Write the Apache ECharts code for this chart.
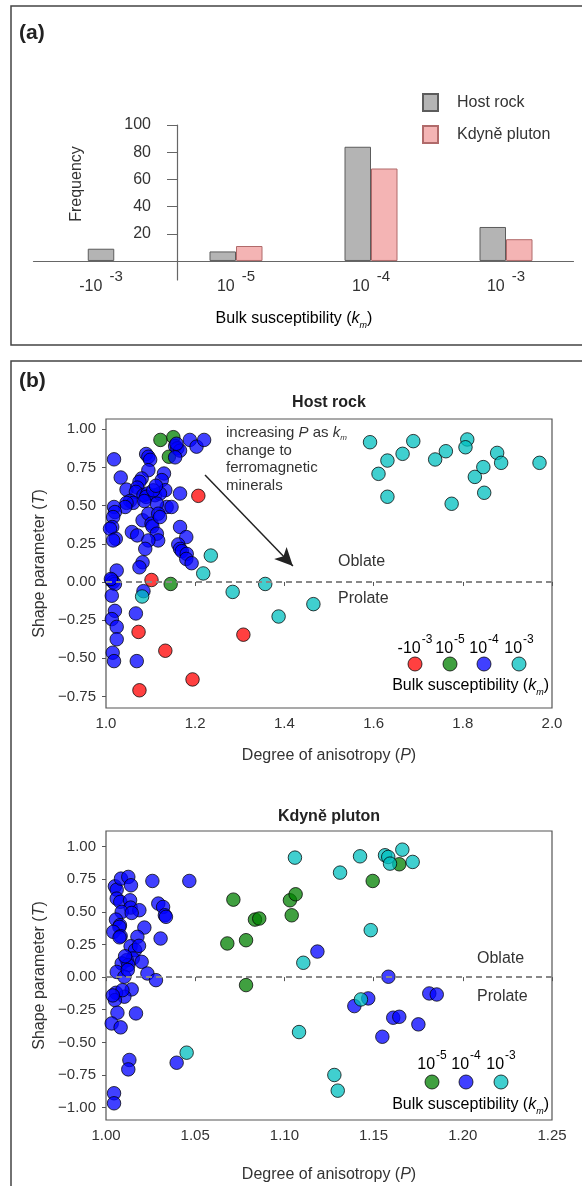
<!DOCTYPE html>
<html>
<head>
<meta charset="utf-8" />
<title>Bulk susceptibility and AMS shape</title>
<script src="https://cdn.jsdelivr.net/npm/echarts@6/dist/echarts.min.js"></script>
<style>
    html, body { margin: 0; padding: 0; background: #fff; }
    #chart { width: 582px; height: 1186px; }
</style>
</head>
<body>
<div id="chart"></div>
<script type="text/javascript">
    // (a) histogram of bulk susceptibility
    var binBase = ['-10', '10', '10', '10'];
    var binExp = ['-3', '-5', '-4', '-3'];
    var hostFreq = [9, 7, 84, 25];
    var plutonFreq = [null, 11, 68, 16];
    var freqTicks = [20, 40, 60, 80, 100];

    // (b) host rock, [P, T]
    var hostRed = [[1.207, 0.564], [1.102, 0.013], [1.073, -0.327], [1.133, -0.45], [1.194, -0.638],
        [1.075, -0.709], [1.308, -0.345]];
    var hostGreen = [[1.122, 0.93], [1.151, 0.948], [1.141, 0.82], [1.145, -0.013]];
    var hostBlue = [[1.018, 0.803], [1.033, 0.684], [1.046, 0.605], [1.090, 0.838], [1.095, 0.82],
        [1.099, 0.80], [1.095, 0.732], [1.080, 0.678], [1.075, 0.656], [1.070, 0.618], [1.067, 0.59],
        [1.084, 0.568], [1.093, 0.579], [1.090, 0.557], [1.110, 0.568], [1.130, 0.71], [1.125, 0.667],
        [1.133, 0.601], [1.121, 0.579], [1.136, 0.491], [1.147, 0.491], [1.166, 0.579], [1.054, 0.531],
        [1.061, 0.518], [1.046, 0.518], [1.043, 0.491], [1.018, 0.491], [1.020, 0.458], [1.016, 0.425],
        [1.014, 0.36], [1.009, 0.349], [1.022, 0.283], [1.016, 0.272], [1.058, 0.327], [1.070, 0.305],
        [1.082, 0.404], [1.095, 0.447], [1.102, 0.382], [1.104, 0.364], [1.114, 0.513], [1.117, 0.447],
        [1.121, 0.425], [1.114, 0.316], [1.117, 0.272], [1.095, 0.272], [1.088, 0.217], [1.082, 0.129],
        [1.075, 0.096], [1.166, 0.36], [1.180, 0.294], [1.162, 0.246], [1.166, 0.217], [1.170, 0.202],
        [1.181, 0.184], [1.180, 0.151], [1.192, 0.123], [1.024, 0.075], [1.013, 0.013], [1.016, 0.0],
        [1.020, -0.013], [1.013, -0.09], [1.020, -0.189], [1.013, -0.243], [1.024, -0.294], [1.024, -0.375],
        [1.015, -0.463], [1.018, -0.518], [1.067, -0.206], [1.069, -0.518], [1.084, -0.06],
        [1.155, 0.89], [1.160, 0.875], [1.166, 0.86], [1.158, 0.905], [1.188, 0.93], [1.203, 0.886],
        [1.220, 0.93], [1.155, 0.816], [1.011, 0.02], [1.106, 0.60], [1.112, 0.63], [1.086, 0.53]];
    var hostCyan = [[1.592, 0.915], [1.631, 0.795], [1.611, 0.708], [1.631, 0.558], [1.665, 0.839],
        [1.689, 0.922], [1.738, 0.802], [1.762, 0.856], [1.775, 0.512], [1.810, 0.933], [1.806, 0.882],
        [1.827, 0.688], [1.846, 0.752], [1.848, 0.584], [1.877, 0.845], [1.886, 0.78], [1.972, 0.78],
        [1.235, 0.173], [1.218, 0.056], [1.284, -0.065], [1.357, -0.013], [1.387, -0.226], [1.465, -0.145],
        [1.081, -0.095]];

    // (b) Kdyně pluton, [P, T]
    var plutonGreen = [[1.0714, 0.594], [1.068, 0.258], [1.0785, 0.283], [1.0835, 0.441], [1.0859, 0.449],
        [1.0785, -0.061], [1.1031, 0.589], [1.1063, 0.635], [1.1041, 0.474], [1.1495, 0.737], [1.1644, 0.865]];
    var plutonBlue = [[1.005, 0.696], [1.006, 0.67], [1.0084, 0.755], [1.0125, 0.768], [1.014, 0.704],
        [1.006, 0.602], [1.008, 0.577], [1.0135, 0.589], [1.0138, 0.533], [1.0187, 0.513], [1.0088, 0.5],
        [1.0144, 0.492], [1.0056, 0.441], [1.0078, 0.398], [1.0075, 0.385], [1.0041, 0.347], [1.0082, 0.314],
        [1.0076, 0.305], [1.0215, 0.38], [1.0176, 0.309], [1.0138, 0.237], [1.0163, 0.207], [1.015, 0.143],
        [1.0116, 0.13], [1.0088, 0.105], [1.0125, 0.092], [1.02, 0.117], [1.006, 0.04], [1.0103, 0.003],
        [1.0232, 0.028], [1.028, -0.023], [1.0144, -0.094], [1.0103, -0.15], [1.0056, -0.12], [1.005, -0.176],
        [1.0064, -0.273], [1.0032, -0.355], [1.0082, -0.385], [1.0168, -0.278], [1.0131, -0.635],
        [1.0125, -0.707], [1.0045, -0.89], [1.0045, -0.967], [1.026, 0.737], [1.0467, 0.737], [1.0293, 0.564],
        [1.032, 0.538], [1.033, 0.474], [1.0336, 0.462], [1.0306, 0.296], [1.0396, -0.656],
        [1.0107, 0.16], [1.0122, 0.055], [1.0185, 0.24], [1.0092, -0.1], [1.0038, -0.14],
        [1.1185, 0.196], [1.1583, 0.003], [1.1392, -0.222], [1.147, -0.163], [1.161, -0.311], [1.1644, -0.304],
        [1.1549, -0.457], [1.1751, -0.362], [1.1812, -0.125], [1.1854, -0.133]];
    var plutonCyan = [[1.1059, 0.916], [1.1312, 0.801], [1.1424, 0.926], [1.1564, 0.934], [1.1582, 0.921],
        [1.1592, 0.87], [1.1661, 0.977], [1.1719, 0.883], [1.1484, 0.36], [1.1106, 0.11], [1.1429, -0.171],
        [1.1082, -0.421], [1.128, -0.75], [1.1299, -0.87], [1.0452, -0.579]];

    var tTicksHost = [-0.75, -0.5, -0.25, 0, 0.25, 0.5, 0.75, 1];
    var tTicksPluton = [-1, -0.75, -0.5, -0.25, 0, 0.25, 0.5, 0.75, 1];
    // arrow "increasing P", start and end in [P, T]
    var arrowFrom = [1.222, 0.70];
    var arrowTo = [1.419, 0.105];

    var FONT = '"Liberation Sans", Arial, Helvetica, sans-serif';
    var TXT = '#333';
    var C_RED = 'red', C_GREEN = 'green', C_BLUE = 'blue', C_CYAN = '#00bfbf';

    // rich style helper
    function rs(extra) {
        return Object.assign({fontFamily: FONT, fontSize: 16, color: TXT}, extra || {});
    }
    function supText(b, e) {
        return '{b|' + b + '}{s|' + e + '}';
    }
    var kmName = '{n|Bulk susceptibility (}{i|k}{m|m}{n|)}';
    var kmRich = {
        n: rs({verticalAlign: 'bottom', padding: [0, 0, 3, 0]}),
        i: rs({fontStyle: 'italic', verticalAlign: 'bottom', padding: [0, 0, 3, 0]}),
        m: rs({fontSize: 9, fontStyle: 'italic', verticalAlign: 'bottom'})
    };
    function tFmt(v) {
        return (v < 0 ? '\u2212' : '') + Math.abs(v).toFixed(2);
    }

    function scatterSeries(name, data, color, xi, yi) {
        return {
            name: name,
            type: 'scatter',
            xAxisIndex: xi,
            yAxisIndex: yi,
            data: data,
            symbolSize: 13.5,
            itemStyle: {color: color, opacity: 0.75, borderColor: '#000', borderWidth: 1},
            emphasis: {disabled: true}
        };
    }

    var zeroLine = {
        silent: true,
        symbol: ['none', 'none'],
        label: {show: false},
        lineStyle: {color: '#888', width: 2, type: [6, 4]},
        data: [{yAxis: 0}]
    };

    function scatterXAxis(grid, min, max, step, digits, gap) {
        return {
            type: 'value', gridIndex: grid, min: min, max: max, interval: step,
            axisLine: {show: false},
            axisTick: {show: true, length: 4, lineStyle: {color: '#555'}},
            splitLine: {show: false},
            axisLabel: {fontSize: 15, color: TXT, margin: 8, formatter: function (v) { return v.toFixed(digits); }},
            name: '{n|Degree of anisotropy (}{i|P}{n|)}',
            nameLocation: 'middle',
            nameGap: gap,
            nameTextStyle: {rich: {n: rs(), i: rs({fontStyle: 'italic'})}}
        };
    }
    function scatterYAxis(grid, min, max, ticks) {
        return {
            type: 'value', gridIndex: grid, min: min, max: max,
            axisLine: {show: false, onZero: false},
            axisTick: {show: true, length: 4, lineStyle: {color: '#555'}, customValues: ticks},
            splitLine: {show: false},
            axisLabel: {fontSize: 15, color: TXT, margin: 10, customValues: ticks, formatter: tFmt},
            name: '{n|Shape parameter (}{i|T}{n|)}',
            nameLocation: 'middle',
            nameGap: 56,
            nameTextStyle: {rich: {n: rs(), i: rs({fontStyle: 'italic'})}}
        };
    }

    // custom legends of the scatter plots
    function kLegend(items, cy, labelDy, titleY) {
        var els = [];
        items.forEach(function (it) {
            els.push({
                type: 'circle',
                shape: {cx: it[0], cy: cy, r: 7},
                style: {fill: it[1], stroke: '#000', lineWidth: 1, opacity: 0.75}
            });
            els.push({
                type: 'text',
                style: {
                    x: it[0], y: cy - labelDy + 8, text: supText(it[2], it[3]),
                    align: 'center', verticalAlign: 'bottom',
                    rich: {
                        b: rs({verticalAlign: 'bottom'}),
                        s: rs({fontSize: 12, verticalAlign: 'top', padding: [0, 0, 11, 1]})
                    }
                }
            });
        });
        els.push({
            type: 'text',
            style: {x: 549, y: titleY, text: kmName, rich: kmRich, align: 'right', verticalAlign: 'middle'}
        });
        return els;
    }

    var myChart = echarts.init(document.getElementById('chart'));
    var option = {
        animation: false,
        textStyle: {fontFamily: FONT, color: TXT},
        legend: {
            data: ['Host rock', 'Kdyně pluton'],
            orient: 'vertical',
            left: 417,
            top: 88,
            itemWidth: 15,
            itemHeight: 17,
            itemGap: 13,
            icon: 'rect',
            selectedMode: false,
            formatter: function (n) { return '{t|' + n + '}'; },
            textStyle: {fontSize: 16, color: TXT, rich: {t: rs({padding: [0, 0, 0, 14]})}}
        },
        grid: [
            {left: 33.5, right: 8.5, top: 125, height: 155},
            {left: 106, right: 30, top: 419, height: 289, show: true, borderColor: '#555', borderWidth: 1.2},
            {left: 106, right: 30, top: 831, height: 289, show: true, borderColor: '#555', borderWidth: 1.2}
        ],
        xAxis: [
            {
                type: 'category', gridIndex: 0,
                data: binBase.map(function (b, i) { return b + '^' + binExp[i]; }),
                axisLine: {onZero: true, lineStyle: {color: '#666', width: 1.2}},
                axisTick: {show: false},
                axisLabel: {
                    interval: 0, margin: -11,
                    formatter: function (v, i) { return supText(binBase[i], binExp[i]); },
                    rich: {
                        b: rs({verticalAlign: 'bottom'}),
                        s: rs({fontSize: 15, verticalAlign: 'top', padding: [0, 0, 10.5, 7]})
                    }
                }
            },
            {type: 'category', gridIndex: 0, data: binBase.slice(), show: false},
            scatterXAxis(1, 1, 2, 0.2, 1, 40),
            scatterXAxis(2, 1, 1.25, 0.05, 2, 47)
        ],
        yAxis: [
            {
                type: 'value', gridIndex: 0, min: -14, max: 100, offset: -143.5,
                splitLine: {show: false},
                axisLine: {show: true, onZero: false, lineStyle: {color: '#666', width: 1.2}},
                axisTick: {show: true, length: 10, lineStyle: {color: '#666'}, customValues: freqTicks},
                axisLabel: {fontSize: 16, color: TXT, margin: 26, customValues: freqTicks}
            },
            scatterYAxis(1, -0.825, 1.067, tTicksHost),
            scatterYAxis(2, -1.095, 1.12, tTicksPluton)
        ],
        series: [
            {
                name: 'Host rock', type: 'bar', xAxisIndex: 0, yAxisIndex: 0,
                data: hostFreq.map(function (v, i) { return i === 0 ? '-' : v; }),
                barWidth: 26.5, barGap: '0%',
                itemStyle: {color: '#b4b4b4', borderColor: '#5c5c5c', borderWidth: 1}
            },
            {
                name: 'Kdyně pluton', type: 'bar', xAxisIndex: 0, yAxisIndex: 0,
                data: plutonFreq.map(function (v) { return v == null ? '-' : v; }),
                barWidth: 26.5, barGap: '0%',
                itemStyle: {color: '#f4b4b4', borderColor: '#b06a6a', borderWidth: 1}
            },
            {
                // the negative bin has no pluton bar, so it sits centred on its own axis
                name: 'Host rock', type: 'bar', xAxisIndex: 1, yAxisIndex: 0,
                data: hostFreq.map(function (v, i) { return i === 0 ? v : '-'; }),
                barWidth: 26.5,
                itemStyle: {color: '#b4b4b4', borderColor: '#5c5c5c', borderWidth: 1}
            },
            Object.assign(scatterSeries('h-3n', hostRed, C_RED, 2, 1), {
                markLine: {
                    silent: true,
                    symbol: ['none', 'arrow'],
                    symbolSize: [13, 18],
                    label: {show: false},
                    lineStyle: {color: '#222', width: 1.5, type: 'solid'},
                    data: [[{coord: arrowFrom}, {coord: arrowTo}]]
                }
            }),
            Object.assign(scatterSeries('h-5', hostGreen, C_GREEN, 2, 1), {markLine: zeroLine}),
            scatterSeries('h-4', hostBlue, C_BLUE, 2, 1),
            scatterSeries('h-3', hostCyan, C_CYAN, 2, 1),
            Object.assign(scatterSeries('p-5', plutonGreen, C_GREEN, 3, 2), {markLine: zeroLine}),
            scatterSeries('p-4', plutonBlue, C_BLUE, 3, 2),
            scatterSeries('p-3', plutonCyan, C_CYAN, 3, 2)
        ],
        graphic: [
            {type: 'rect', shape: {x: 11, y: 6, width: 575, height: 339}, style: {fill: 'none', stroke: '#444', lineWidth: 1.5}},
            {type: 'rect', shape: {x: 11, y: 361, width: 575, height: 900}, style: {fill: 'none', stroke: '#444', lineWidth: 1.5}},
            {type: 'text', style: {x: 19, y: 33, text: '(a)', font: 'bold 21px ' + FONT, fill: '#222', verticalAlign: 'middle'}},
            {type: 'text', style: {x: 19, y: 381, text: '(b)', font: 'bold 21px ' + FONT, fill: '#222', verticalAlign: 'middle'}},
            {type: 'text', x: 77, y: 184, rotation: Math.PI / 2,
                style: {x: 0, y: 0, text: 'Frequency', font: '16px ' + FONT, fill: TXT, align: 'center', verticalAlign: 'middle'}},
            {type: 'text', style: {x: 294, y: 320, text: kmName, rich: kmRich, align: 'center', verticalAlign: 'middle'}},
            {type: 'text', style: {x: 329, y: 403, text: 'Host rock', font: 'bold 16px ' + FONT, fill: '#222', align: 'center', verticalAlign: 'middle'}},
            {type: 'text', style: {x: 329, y: 817, text: 'Kdyně pluton', font: 'bold 16px ' + FONT, fill: '#222', align: 'center', verticalAlign: 'middle'}},
            {type: 'text', style: {
                x: 226, y: 424, verticalAlign: 'top',
                text: 'increasing {i|P} as {i|k}{m|m}\nchange to\nferromagnetic\nminerals',
                font: '15px ' + FONT, fill: TXT, lineHeight: 17.7,
                rich: {
                    i: rs({fontSize: 15, fontStyle: 'italic', lineHeight: 17.7}),
                    m: rs({fontSize: 8, fontStyle: 'italic', verticalAlign: 'bottom'})
                }
            }},
            {type: 'text', style: {x: 338, y: 562, text: 'Oblate', font: '16px ' + FONT, fill: TXT, verticalAlign: 'middle'}},
            {type: 'text', style: {x: 338, y: 599, text: 'Prolate', font: '16px ' + FONT, fill: TXT, verticalAlign: 'middle'}},
            {type: 'text', style: {x: 477, y: 959, text: 'Oblate', font: '16px ' + FONT, fill: TXT, verticalAlign: 'middle'}},
            {type: 'text', style: {x: 477, y: 997, text: 'Prolate', font: '16px ' + FONT, fill: TXT, verticalAlign: 'middle'}}
        ].concat(
            kLegend([[415, C_RED, '-10', '-3'], [450, C_GREEN, '10', '-5'], [484, C_BLUE, '10', '-4'], [519, C_CYAN, '10', '-3']], 664, 15, 687),
            kLegend([[432, C_GREEN, '10', '-5'], [466, C_BLUE, '10', '-4'], [501, C_CYAN, '10', '-3']], 1082, 17, 1106)
        )
    };
    myChart.setOption(option);
</script>
</body>
</html>
